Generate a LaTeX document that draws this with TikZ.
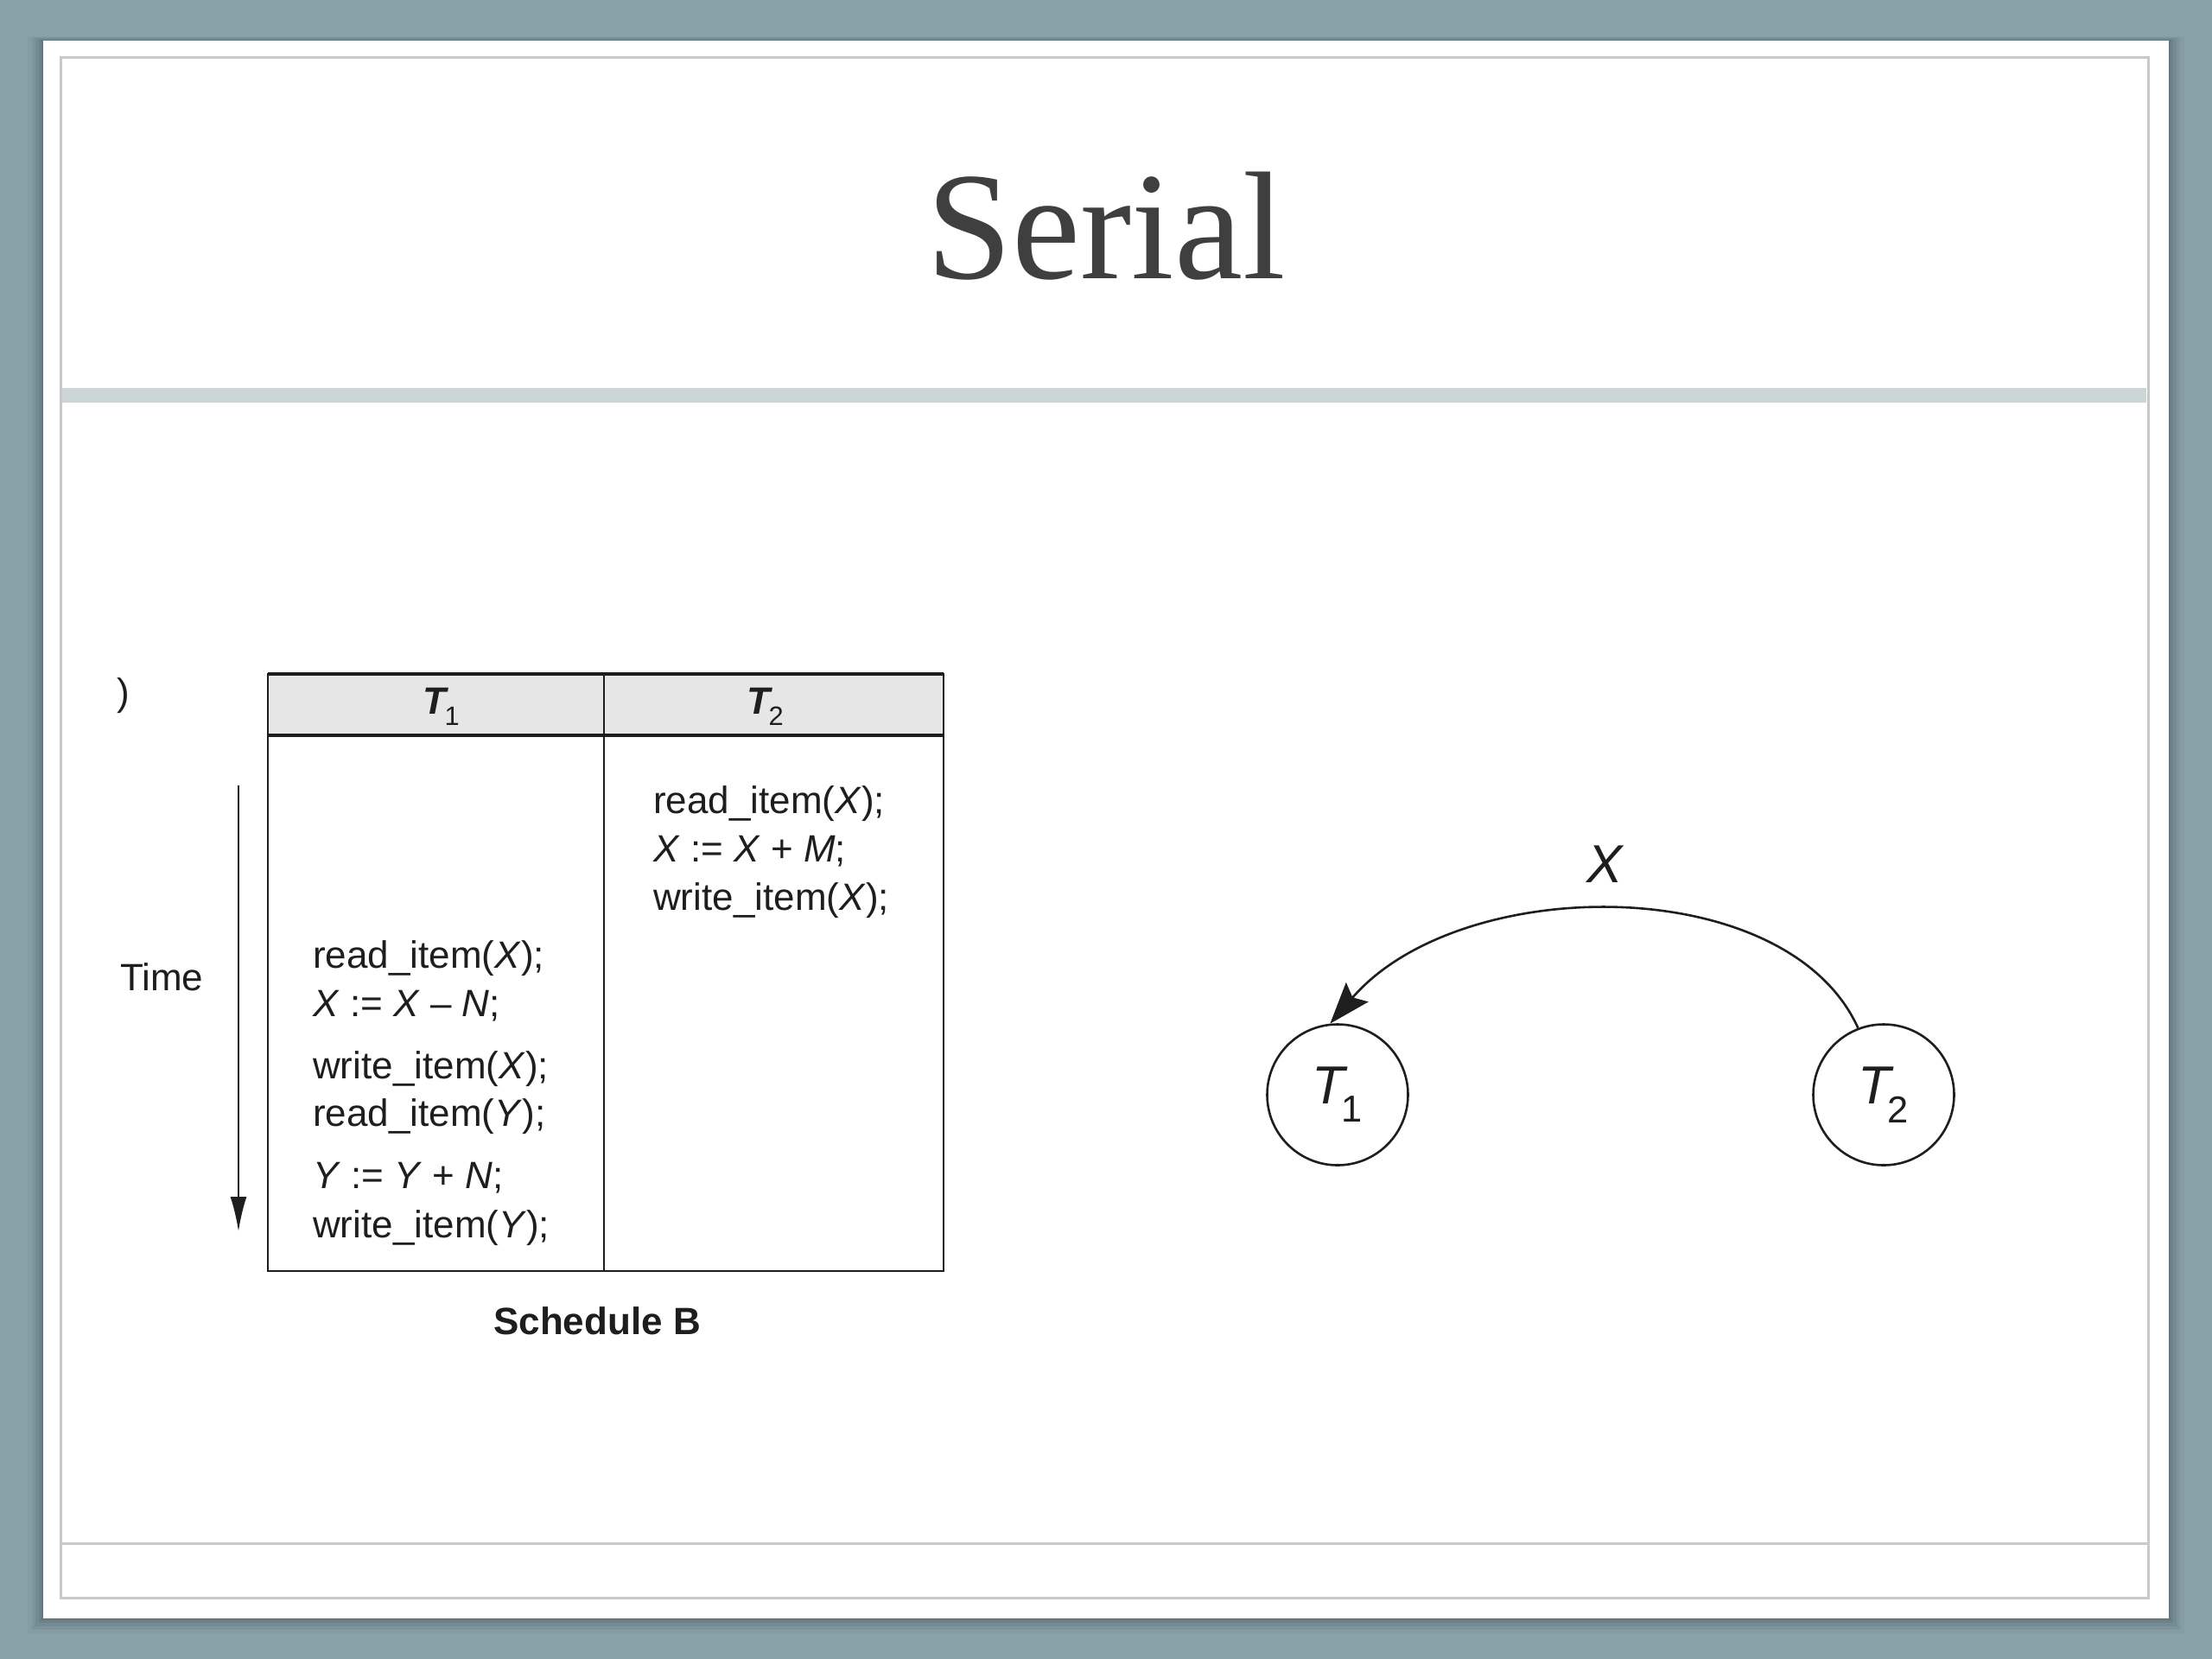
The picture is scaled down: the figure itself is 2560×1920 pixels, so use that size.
\documentclass[tikz,border=0pt]{standalone}
\usepackage{fontspec}
\setmainfont{Liberation Serif}
\setsansfont{Liberation Sans}
\usetikzlibrary{arrows.meta}
\definecolor{bgblue}{HTML}{89A2AA}
\definecolor{shadowc}{HTML}{4F6066}
\definecolor{framegray}{HTML}{C9C9C9}
\definecolor{barc}{HTML}{CCD6D7}
\definecolor{titlec}{HTML}{3F3F3F}
\definecolor{hdrc}{HTML}{E6E6E6}
\definecolor{inkc}{HTML}{1E1E1E}
\tikzset{
  tline/.style={draw=inkc, line width=2.4pt},
  code/.style={anchor=base west, inner sep=0pt, font=\sffamily\fontsize{44}{50}\selectfont, text=inkc},
  hdrtext/.style={anchor=center, inner sep=0pt, font=\sffamily\fontsize{44}{50}\selectfont, text=inkc},
  tnode/.style={circle, draw=inkc, line width=2.6pt, minimum size=163pt, inner sep=0pt, font=\sffamily\fontsize{62}{70}\selectfont, text=inkc},
  edgelbl/.style={inner sep=0pt, font=\sffamily\fontsize{62}{70}\selectfont, text=inkc}
}
\newcommand{\vv}[1]{\textit{#1}}
\begin{document}
\begin{tikzpicture}[x=1pt,y=-1pt]
\useasboundingbox (0,0) rectangle (2560,1920);
\fill[bgblue] (0,0) rectangle (2560,1920);
% shadow of card
\foreach \i/\o in {18/0.08,13/0.12,9/0.16,5/0.22,2/0.3}{
  \fill[shadowc, opacity=\o] (50-\i,47-\i*0.3) rectangle (2510+\i,1873+\i);
}
% card
\fill[white] (50,47) rectangle (2510,1873);
\draw[framegray, line width=3pt] (70,66) rectangle (2486,1849);
\draw[framegray, line width=3pt] (70,1786) -- (2486,1786);
\fill[barc] (72,449) rectangle (2484,466);
% title
\node[anchor=base, inner sep=0pt, text=titlec, font=\fontsize{178}{200}\selectfont] (title) at (1280,322) {Serial};
% stray parenthesis
\node[hdrtext] (paren) at (143,805) {)};
% table
\fill[hdrc] (310,780) rectangle (1092,851);
\draw[tline] (310,780) rectangle (1092,1471);
\draw[tline, line width=3.2pt] (310,780) -- (1092,780);
\draw[tline, line width=3.2pt] (310,851) -- (1092,851);
\draw[tline] (699,780) -- (699,1471);
\node[hdrtext] (h1) at (511,818) {\textbf{\textit{T}}\kern-5pt\textsubscript{1}};
\node[hdrtext] (h2) at (886,818) {\textbf{\textit{T}}\kern-5pt\textsubscript{2}};
% T2 column
\node[code] (b1) at (756,941) {read\_item(\vv{X});};
\node[code] (b2) at (756,997) {\vv{X} := \vv{X} + \vv{M};};
\node[code] (b3) at (756,1053) {write\_item(\vv{X});};
% T1 column
\node[code] (a1) at (362,1120) {read\_item(\vv{X});};
\node[code] (a2) at (362,1176) {\vv{X} := \vv{X} – \vv{N};};
\node[code] (a3) at (362,1248) {write\_item(\vv{X});};
\node[code] (a4) at (362,1303) {read\_item(\vv{Y});};
\node[code] (a5) at (362,1375) {\vv{Y} := \vv{Y} + \vv{N};};
\node[code] (a6) at (362,1432) {write\_item(\vv{Y});};
% time axis
\node[code] (time) at (139,1146) {Time};
\coordinate (ts) at (276,909);
\coordinate (te) at (276,1425);
\draw[draw=inkc, line width=2.2pt, -{Latex[length=40pt,width=19pt]}] (ts) -- (te);
\node[anchor=base, inner sep=0pt, font=\sffamily\bfseries\fontsize{44}{50}\selectfont, text=inkc] (cap) at (691,1544) {Schedule B};
% precedence graph
\node[tnode] (t1) at (1548,1267) {\vv{T}\kern-7pt\textsubscript{1}};
\node[tnode] (t2) at (2180,1267) {\vv{T}\kern-7pt\textsubscript{2}};
\draw[draw=inkc, line width=2.6pt, -{Stealth[length=48pt,width=34pt,inset=8pt]}] (t2.111) .. controls (2068,1008) and (1690,1010) .. (t1.96);
\node[edgelbl] (xl) at (1858,1000) {\vv{X}};
\end{tikzpicture}
\end{document}
